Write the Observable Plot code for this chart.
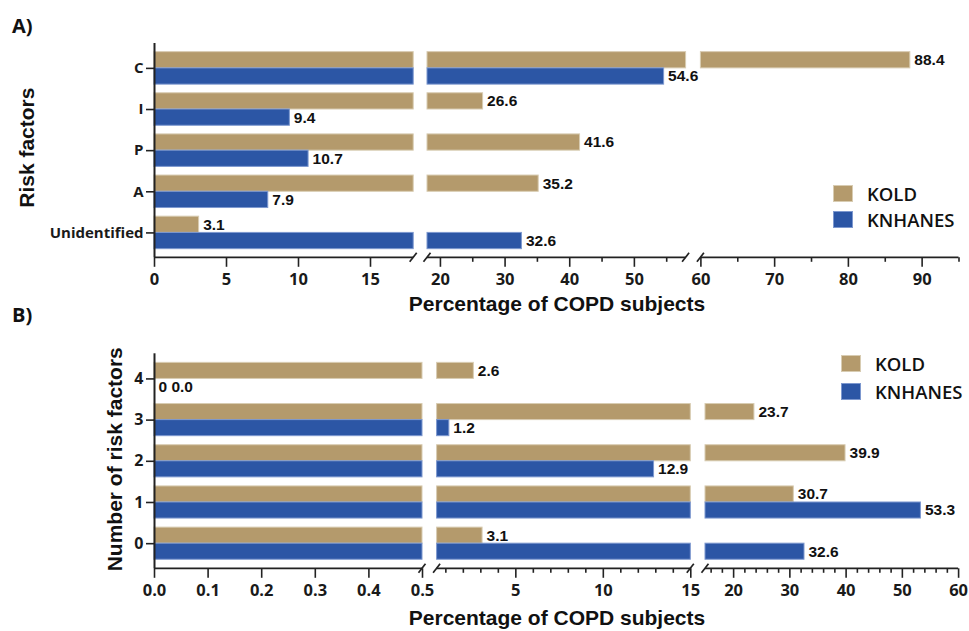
<!DOCTYPE html>
<html>
<head>
<meta charset="utf-8">
<script src="https://cdn.jsdelivr.net/npm/d3@7"></script>
<script src="https://cdn.jsdelivr.net/npm/@observablehq/plot@0.6"></script>
<style>
  html, body { margin: 0; padding: 0; background: #fff; }
  #wrap { position: relative; width: 969px; height: 631px; overflow: hidden; background: #fff; }
  #wrap > svg { position: absolute; left: 0; }
  .ptitle { position: absolute; left: 12px; font: bold 20px "Open Sans", sans-serif; line-height: 20px; color: #111; }
  .lg { position: absolute; display: flex; align-items: center; font: 600 18.5px "Open Sans", "Noto Sans", sans-serif; color: #111; }
  .lg i { display: inline-block; width: 20px; height: 17px; margin-right: 14px; box-sizing: border-box; }
</style>
</head>
<body>
<div id="wrap"></div>
<script>
// ---------- data ----------
const seriesNames = ["KOLD", "KNHANES"];
const seriesColors = ["#b49a6c", "#2c56a5"];
const seriesEdges = ["#d8ccb2", "#7d98cf"];
const xTitle = "Percentage of COPD subjects";

// Panel A
const riskFactors = ["C", "I", "P", "A", "Unidentified"];
const koldA = [88.4, 26.6, 41.6, 35.2, 3.1];
const knhanesA = [54.6, 9.4, 10.7, 7.9, 32.6];
const segmentsA = [[0, 18], [18, 58], [60, 95]];
const majorTicksA = [0, 5, 10, 15, 20, 30, 40, 50, 60, 70, 80, 90];
const minorTicksA = [25, 35, 45, 55, 65, 75, 85, 95];

// Panel B
const riskCounts = ["4", "3", "2", "1", "0"];
const koldB = [2.6, 23.7, 39.9, 30.7, 3.1];
const knhanesB = [0.0, 1.2, 12.9, 53.3, 32.6];
const knhanesLabelsB = ["0 0.0", "1.2", "12.9", "53.3", "32.6"];
const segmentsB = [[0, 0.5], [0.5, 15], [15, 60]];
const majorTicksB = [0, 0.1, 0.2, 0.3, 0.4, 0.5, 5, 10, 15, 20, 30, 40, 50, 60];
const minorTicksB = [1, 2, 3, 4, 6, 7, 8, 9, 11, 12, 13, 14, 16, 18, 22, 24, 26, 28, 32, 34, 36, 38, 42, 44, 46, 48, 52, 54, 56, 58];

// ---------- helpers ----------
const EPS = 1e-9;
const segStart = (segs, j) => (j > 0 && segs[j][0] === segs[j - 1][1]) ? segs[j][0] + EPS : segs[j][0];
const pieceDomain = segs => segs.flatMap((s, j) => [segStart(segs, j), s[1]]);

function pieces(cats, values, series, segs) {
  const out = [];
  cats.forEach((c, i) => {
    const v = values[i];
    segs.forEach((s, j) => {
      if (v > s[0]) out.push({cat: c, series, x1: segStart(segs, j), x2: Math.min(v, s[1])});
    });
  });
  return out;
}

function axisBreaks(segs) {
  return (index, scales, values, dim) => {
    const g = d3.create("svg:g").attr("stroke", "#222").attr("stroke-width", 1.7).attr("fill", "none");
    const y0 = dim.height - dim.marginBottom;
    segs.forEach((s, j) => {
      const xa = scales.x(segStart(segs, j)), xb = scales.x(s[1]);
      g.append("line").attr("x1", xa).attr("x2", xb).attr("y1", y0).attr("y2", y0);
      if (j > 0) g.append("line").attr("x1", xa - 3.5).attr("x2", xa + 3.5).attr("y1", y0 + 4.5).attr("y2", y0 - 4.5);
      if (j < segs.length - 1) g.append("line").attr("x1", xb - 3.5).attr("x2", xb + 3.5).attr("y1", y0 + 4.5).attr("y2", y0 - 4.5);
    });
    return g.node();
  };
}

function panel(o) {
  const {cats, kold, knh, knhLabels, segs, pxRange, major, minor, fmt, yTitle, height, marginTop, marginBottom, pad, yTick, yTitleDx, yTitleDy, xTitleDy} = o;
  const frameH = height - marginTop - marginBottom;
  const step = frameH / (cats.length - pad + 2 * pad);
  const half = step * (1 - pad) / 2;
  const barsK = pieces(cats, kold, seriesNames[0], segs);
  const barsN = pieces(cats, knh, seriesNames[1], segs);
  const labK = cats.map((c, i) => ({cat: c, v: kold[i], t: kold[i].toFixed(1)}));
  const labN = cats.map((c, i) => ({cat: c, v: knh[i], t: knhLabels ? knhLabels[i] : knh[i].toFixed(1)}));
  const valueFont = {fontFamily: "'Liberation Sans', Arial, sans-serif", fontSize: 15.5, fontWeight: "bold", fill: "#111", textAnchor: "start", dx: 4};
  const titleFont = {fontFamily: "'Liberation Sans', Arial, sans-serif", fontSize: 21, fontWeight: "bold", fill: "#111", textAnchor: "middle", lineAnchor: "middle"};
  return Plot.plot({
    width: 969, height, marginLeft: 154, marginRight: 10, marginTop, marginBottom,
    style: {fontFamily: "'Open Sans', sans-serif", fontWeight: "bold", fontSize: "16px", color: "#1a1a1a", background: "transparent", overflow: "visible"},
    x: {type: "linear", domain: pieceDomain(segs), range: pxRange},
    y: {type: "band", domain: cats, paddingInner: pad, paddingOuter: pad, round: false},
    marks: [
      Plot.barX(barsK, {x1: "x1", x2: "x2", y: "cat", fill: seriesColors[0], stroke: seriesEdges[0], strokeWidth: 1, insetBottom: half}),
      Plot.barX(barsN, {x1: "x1", x2: "x2", y: "cat", fill: seriesColors[1], stroke: seriesEdges[1], strokeWidth: 1, insetTop: half}),
      Plot.text(labK, {x: "v", y: "cat", text: "t", dy: -half / 2, ...valueFont}),
      Plot.text(labN, {x: "v", y: "cat", text: "t", dy: half / 2, ...valueFont}),
      Plot.ruleX([0], {stroke: "#222", strokeWidth: 2}),
      Plot.axisY({tickSize: 8, tickPadding: 3, fontSize: yTick, label: null, stroke: "#222", strokeWidth: 1.6}),
      Plot.axisX({ticks: major, tickSize: 9.5, tickPadding: 6, tickFormat: fmt, fontSize: 16.5, label: null, stroke: "#222", strokeWidth: 1.6}),
      Plot.axisX({ticks: minor, tickSize: 4.5, tickFormat: () => "", label: null, stroke: "#222", strokeWidth: 1.6}),
      axisBreaks(segs),
      Plot.text([xTitle], {frameAnchor: "bottom", dy: xTitleDy, ...titleFont}),
      Plot.text([yTitle], {frameAnchor: "left", rotate: -90, dx: yTitleDx, dy: yTitleDy, ...titleFont})
    ]
  });
}

const wrap = document.getElementById("wrap");

const svgA = panel({
  cats: riskFactors, kold: koldA, knh: knhanesA, segs: segmentsA,
  pxRange: [154, 413.2, 427, 685.6, 700.4, 958.5],
  major: majorTicksA, minor: minorTicksA, fmt: d => String(d),
  yTitle: "Risk factors", height: 320, marginTop: 43, marginBottom: 62.7, pad: 0.21, yTick: 15,
  yTitleDx: -127, yTitleDy: -3, xTitleDy: 46.5
});
svgA.style.top = "0px";
wrap.appendChild(svgA);

const svgB = panel({
  cats: riskCounts, kold: koldB, knh: knhanesB, knhLabels: knhanesLabelsB, segs: segmentsB,
  pxRange: [154, 422, 436.6, 690.3, 705, 958.1],
  major: majorTicksB, minor: minorTicksB, fmt: d => (d < 1 ? d.toFixed(1) : String(d)),
  yTitle: "Number of risk factors", height: 311, marginTop: 33.3, marginBottom: 62.7, pad: 0.22, yTick: 16,
  yTitleDx: -39, yTitleDy: -2, xTitleDy: 49.5
});
svgB.style.top = "320px";
wrap.appendChild(svgB);

// panel tags
[["A)", 16], ["B)", 305]].forEach(([t, top]) => {
  const d = document.createElement("div");
  d.className = "ptitle"; d.textContent = t; d.style.top = top + "px";
  wrap.appendChild(d);
});

// legends
function legend(left, tops) {
  seriesNames.forEach((name, i) => {
    const d = document.createElement("div");
    d.className = "lg";
    d.style.left = left + "px"; d.style.top = tops[i] + "px";
    const sw = document.createElement("i");
    sw.style.background = seriesColors[i];
    sw.style.border = "1px solid " + seriesEdges[i];
    d.appendChild(sw);
    d.appendChild(document.createTextNode(name));
    wrap.appendChild(d);
  });
}
legend(833, [181, 207]);
legend(841, [351, 379]);
</script>
</body>
</html>
